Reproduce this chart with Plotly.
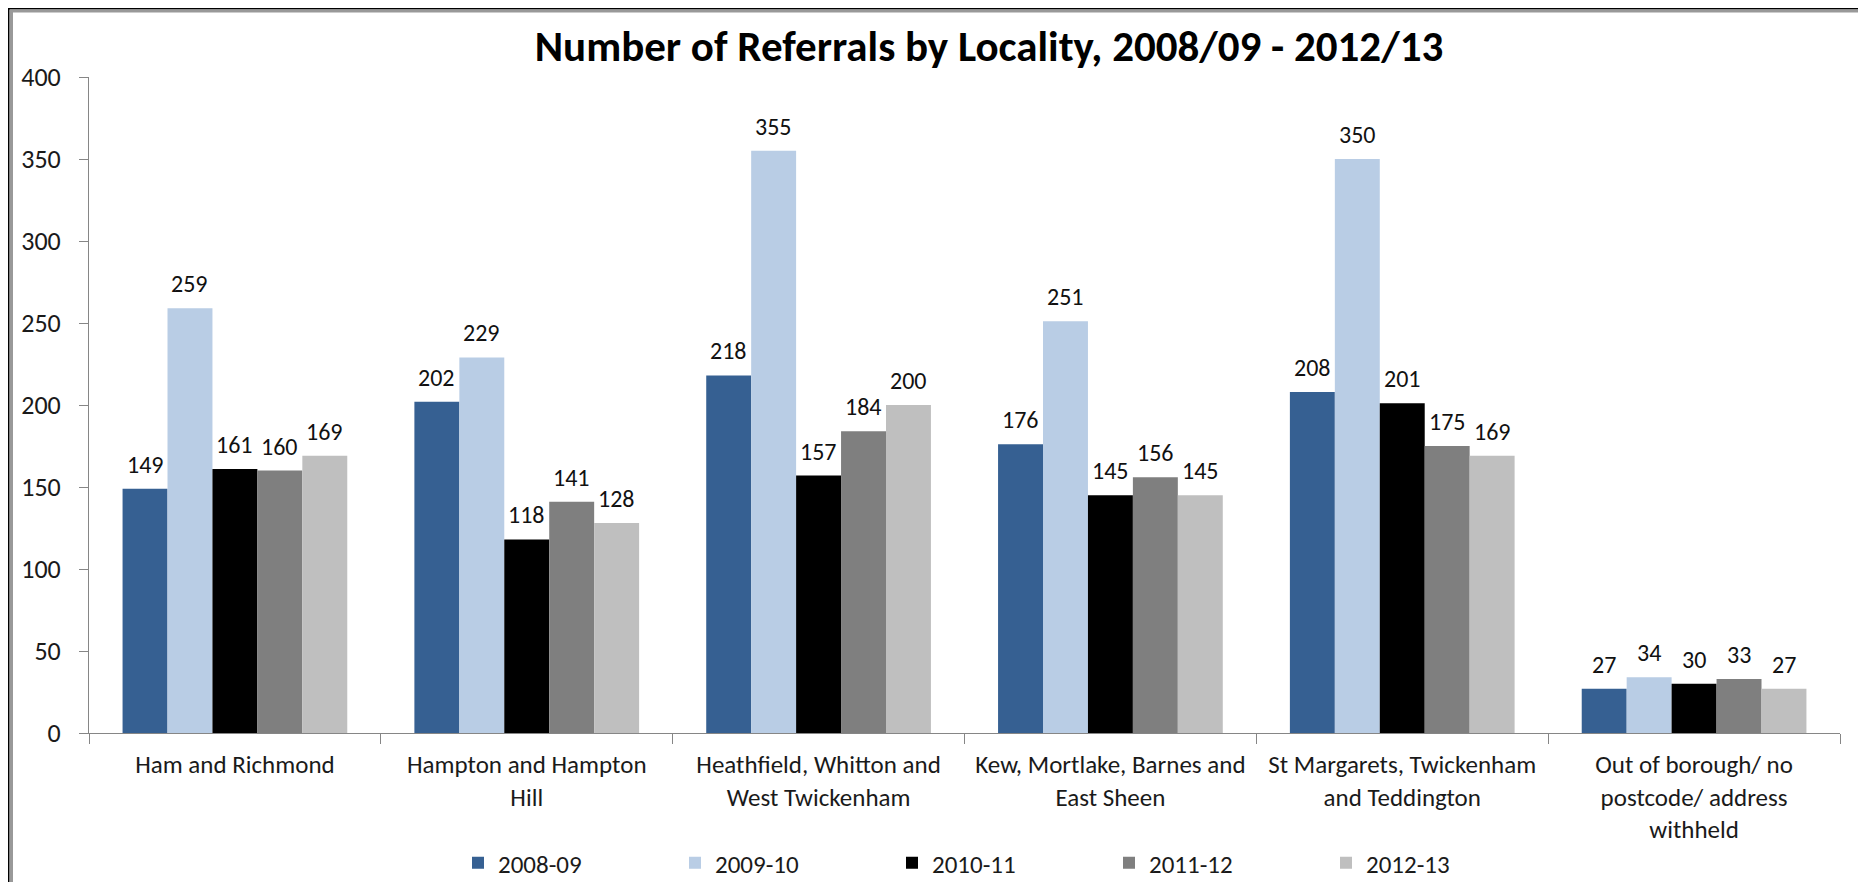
import plotly.graph_objects as go

categories = [
    "Ham and Richmond",
    "Hampton and Hampton<br>Hill",
    "Heathfield, Whitton and<br>West Twickenham",
    "Kew, Mortlake, Barnes and<br>East Sheen",
    "St Margarets, Twickenham<br>and Teddington",
    "Out of borough/ no<br>postcode/ address<br>withheld",
]
series_names = ["2008-09", "2009-10", "2010-11", "2011-12", "2012-13"]
v_2008_09 = [149, 202, 218, 176, 208, 27]
v_2009_10 = [259, 229, 355, 251, 350, 34]
v_2010_11 = [161, 118, 157, 145, 201, 30]
v_2011_12 = [160, 141, 184, 156, 175, 33]
v_2012_13 = [169, 128, 200, 145, 169, 27]
series_values = [v_2008_09, v_2009_10, v_2010_11, v_2011_12, v_2012_13]
colors = ["#366092", "#B9CDE5", "#000000", "#7F7F7F", "#BFBFBF"]
y_ticks = [0, 50, 100, 150, 200, 250, 300, 350, 400]

FONT = "Carlito, Calibri, Lato, sans-serif"
# page body has an 8px margin; figure coordinates = page coordinates - 8
W, H = 1858, 874
L, R, T, B = 81, 26, 69, 149
BARGAP = 0.23

fig = go.Figure()
for name, vals, col in zip(series_names, series_values, colors):
    fig.add_trace(go.Bar(
        x=categories, y=vals, name=name,
        marker=dict(color=col, line=dict(width=0)),
    ))

# data labels placed above each bar via the category axis scale
n = len(series_names)
bw = (1 - BARGAP) / n
annotations = []
for j, vals in enumerate(series_values):
    for i, v in enumerate(vals):
        annotations.append(dict(
            x=i - (1 - BARGAP) / 2 + bw * (j + 0.5), y=v, xref="x", yref="y",
            text=str(v), showarrow=False, yanchor="bottom", yshift=8,
            font=dict(family=FONT, size=24, color="#111111"),
        ))

pw = W - L - R
ph = H - T - B
def px_x(p):
    return (p - L) / pw
def px_y(p):
    return (H - B - p) / ph

shapes = [
    dict(type="line", xref="paper", yref="paper", x0=px_x(0.5), x1=px_x(0.5), y0=px_y(0), y1=px_y(H + 5),
         line=dict(color="#000000", width=2)),
    dict(type="line", xref="paper", yref="paper", x0=px_x(3.5), x1=px_x(3.5), y0=px_y(2), y1=px_y(H + 5),
         line=dict(color="#999999", width=3)),
    dict(type="line", xref="paper", yref="paper", x0=px_x(0), x1=px_x(W + 5), y0=px_y(0.5), y1=px_y(0.5),
         line=dict(color="#000000", width=2)),
    dict(type="line", xref="paper", yref="paper", x0=px_x(2), x1=px_x(W + 5), y0=px_y(3), y1=px_y(3),
         line=dict(color="#999999", width=3)),
]

fig.update_layout(
    width=W, height=H,
    margin=dict(l=L, r=R, t=T, b=B, autoexpand=False),
    paper_bgcolor="white", plot_bgcolor="white",
    barmode="group", bargap=BARGAP, bargroupgap=0,
    font=dict(family=FONT, color="#1a1a1a"),
    title=dict(text="<b>Number of Referrals by Locality, 2008/09 - 2012/13</b>",
               x=981 / W, xanchor="center", y=1 - 38 / H, yanchor="middle",
               font=dict(family=FONT, size=43, color="#000000")),
    showlegend=True,
    legend=dict(orientation="h", x=px_x(450), xanchor="left", y=px_y(855), yanchor="middle",
                font=dict(family=FONT, size=25, color="#1a1a1a"),
                entrywidth=172, entrywidthmode="pixels", itemwidth=30,
                traceorder="normal", bgcolor="rgba(0,0,0,0)"),
    shapes=shapes,
    annotations=annotations,
)
fig.update_yaxes(range=[0, 400], tickvals=y_ticks, showgrid=False, zeroline=False,
                 showline=True, linecolor="#868686", linewidth=1,
                 ticks="outside", ticklen=9, tickcolor="#868686",
                 tickfont=dict(family=FONT, size=26, color="#1a1a1a"),
                 ticklabelstandoff=13, automargin=False)
fig.update_xaxes(showgrid=False, showline=True, linecolor="#868686", linewidth=1,
                 ticks="outside", ticklen=10, tickcolor="#868686", tickson="boundaries",
                 tickfont=dict(family=FONT, size=25, color="#1a1a1a"),
                 ticklabelstandoff=9, automargin=False)

fig.write_html("out.html")
